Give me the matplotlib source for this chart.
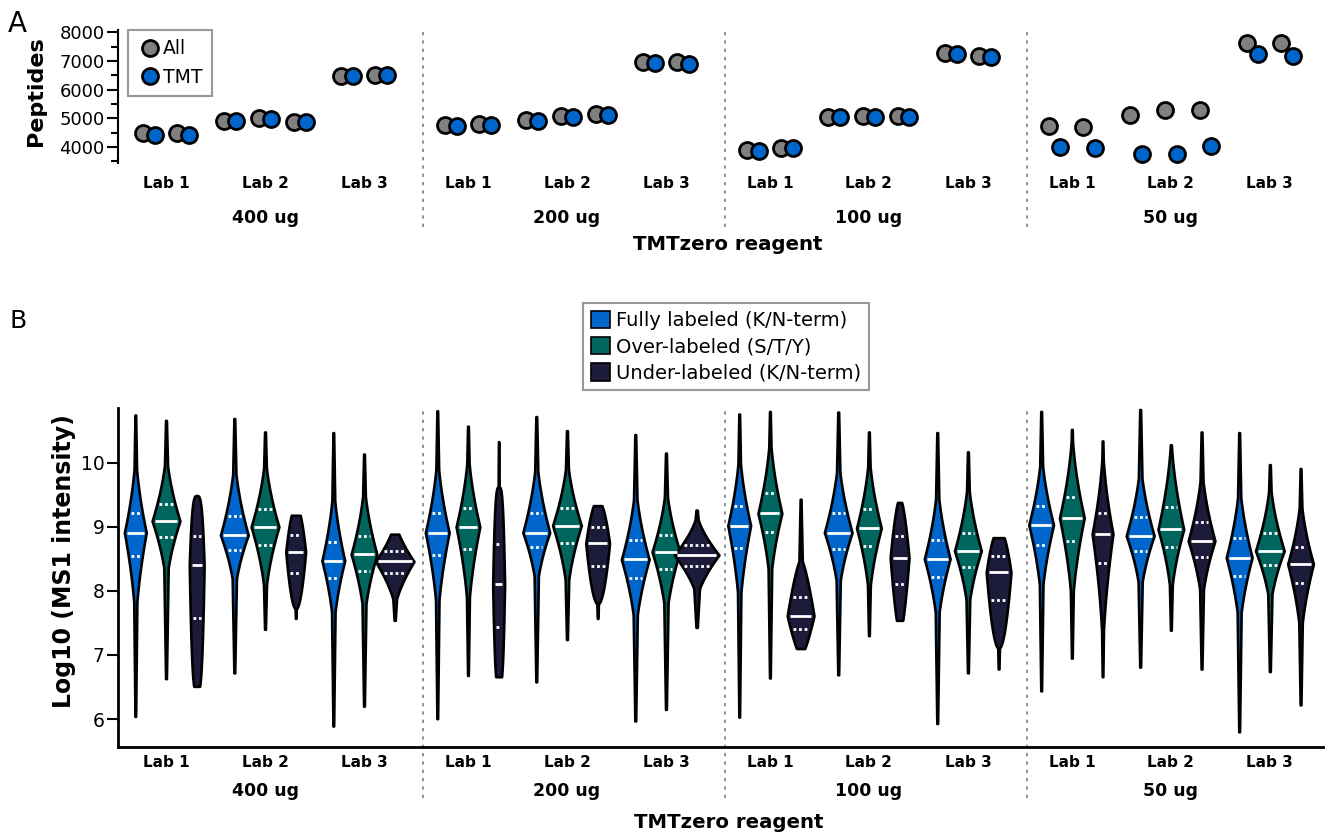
import numpy as np
import matplotlib
matplotlib.use("Agg")
import matplotlib.pyplot as plt
from matplotlib.lines import Line2D
from matplotlib.patches import Patch
from matplotlib.transforms import blended_transform_factory
from matplotlib.ticker import MultipleLocator

plt.rcParams['font.family'] = ['DejaVu Sans']

groups = ['400 ug', '200 ug', '100 ug', '50 ug']
labs = ['Lab 1', 'Lab 2', 'Lab 3']

# panel A: peptide counts per replicate, [group][lab][replicate]
peptides_all = [
    [[4480, 4480], [4917, 5001, 4872], [6466, 6511]],
    [[4768, 4813], [4942, 5092, 5141], [6954, 6954]],
    [[3896, 3976], [5060, 5070, 5081], [7268, 7174]],
    [[4743, 4708], [5116, 5291, 5291], [7616, 7616]],
]
peptides_tmt = [
    [[4420, 4420], [4897, 4977, 4872], [6466, 6494]],
    [[4722, 4768], [4897, 5057, 5116], [6929, 6905]],
    [[3872, 3976], [5050, 5060, 5057], [7233, 7149]],
    [[4011, 3976], [3756, 3756, 4046], [7243, 7184]],
]

# panel B: log10 MS1 intensity summaries, one row per group/lab
# columns: min, q1, median, q3, max
fully = [
    [6.04, 8.55, 8.91, 9.22, 10.745],
    [6.72, 8.64, 8.87, 9.17, 10.69],
    [5.89, 8.20, 8.47, 8.77, 10.47],
    [6.005, 8.56, 8.91, 9.22, 10.81],
    [6.58, 8.68, 8.91, 9.21, 10.72],
    [5.97, 8.20, 8.49, 8.79, 10.44],
    [6.03, 8.67, 9.02, 9.32, 10.76],
    [6.69, 8.66, 8.91, 9.21, 10.79],
    [5.93, 8.22, 8.50, 8.80, 10.47],
    [6.44, 8.72, 9.03, 9.32, 10.80],
    [6.81, 8.62, 8.86, 9.15, 10.83],
    [5.80, 8.23, 8.52, 8.82, 10.47],
]
over = [
    [6.63, 8.84, 9.09, 9.36, 10.66],
    [7.40, 8.72, 9.00, 9.28, 10.48],
    [6.20, 8.31, 8.57, 8.85, 10.135],
    [6.68, 8.65, 9.00, 9.30, 10.57],
    [7.24, 8.75, 9.02, 9.29, 10.50],
    [6.15, 8.34, 8.61, 8.875, 10.15],
    [6.64, 8.92, 9.21, 9.52, 10.80],
    [7.30, 8.70, 8.98, 9.27, 10.48],
    [6.72, 8.375, 8.625, 8.91, 10.17],
    [6.95, 8.78, 9.14, 9.47, 10.52],
    [7.385, 8.69, 8.96, 9.31, 10.28],
    [6.74, 8.40, 8.625, 8.90, 9.97],
]
under = [
    [6.51, 7.58, 8.40, 8.85, 9.49],
    [7.57, 8.28, 8.61, 8.875, 9.18],
    [7.54, 8.28, 8.46, 8.62, 8.885],
    [6.66, 7.44, 8.10, 8.73, 10.33],
    [7.57, 8.39, 8.74, 8.99, 9.33],
    [7.43, 8.39, 8.56, 8.72, 9.26],
    [7.10, 7.40, 7.61, 7.91, 9.43],
    [7.54, 8.11, 8.52, 8.85, 9.38],
    [6.78, 7.85, 8.29, 8.54, 8.83],
    [6.66, 8.44, 8.89, 9.22, 10.34],
    [6.78, 8.53, 8.78, 9.07, 10.48],
    [6.22, 8.12, 8.42, 8.69, 9.91],
]
# relative violin widths (peptide counts) and body shape per violin
# (larger = more pointed kite, smaller = flatter block)
fully_width = [0.22, 0.28, 0.23, 0.24, 0.27, 0.28, 0.23, 0.28, 0.26, 0.25, 0.28, 0.26]
over_width = [0.28, 0.28, 0.26, 0.24, 0.29, 0.28, 0.24, 0.25, 0.27, 0.25, 0.26, 0.29]
under_width = [0.15, 0.20, 0.39, 0.12, 0.24, 0.45, 0.27, 0.19, 0.25, 0.21, 0.27, 0.26]
under_shape = [0.3, 0.5, 1.5, 0.3, 0.5, 1.5, 0.7, 0.6, 0.5, 1.7, 1.7, 1.7]

series = [
    ('Fully labeled (K/N-term)', fully, fully_width, [1.7] * 12, '#0066cc'),
    ('Over-labeled (S/T/Y)', over, over_width, [1.7] * 12, '#00665e'),
    ('Under-labeled (K/N-term)', under, under_width, under_shape, '#1c1c3a'),
]

GRAY = '#808080'
BLUE = '#0066cc'
W, H = 1331, 833
G = 3.05          # spacing between reagent groups, in lab units
PX = 99.0         # pixels per lab unit


def fx(px):
    return px / W


def fy(px):
    return 1 - px / H


def violin_stats(row, k):
    # kite shaped density whose quartiles match the row, plus thin tails to min/max
    lo, q1, med, q3, hi = row
    y = np.linspace(lo, hi, 400)
    c = 1 - 0.5 ** (1 / (k + 1))
    d = np.where(y >= med, (y - med) * c / (q3 - med), (med - y) * c / (med - q1))
    body = np.clip(1 - d, 0, None) ** k
    frac = np.where(y >= med, (y - med) / (hi - med), (med - y) / (med - lo))
    tail = 0.18 * (1 - frac) + 0.03
    vals = np.maximum(body, tail)
    return dict(coords=y, vals=vals, mean=med, median=med, min=lo, max=hi)


lab_x = np.array([g * G + l for g in range(len(groups)) for l in range(len(labs))])
xlim = ((118 - 166) / PX, (1323 - 166) / PX)
dividers = [g * G - 0.455 for g in range(1, len(groups))]

fig = plt.figure(figsize=(W / 100, H / 100), dpi=100)
axA = fig.add_axes([fx(118), fy(163), fx(1323) - fx(118), fy(30) - fy(163)])
axB = fig.add_axes([fx(118), fy(747), fx(1323) - fx(118), fy(408) - fy(747)])

# ---- panel A ----
rep_step = 0.35
pair_off = 0.06
ms, mew = 11.5, 2.0
for g in range(len(groups)):
    for l in range(len(labs)):
        x0 = g * G + l
        a = np.array(peptides_all[g][l])
        t = np.array(peptides_tmt[g][l])
        offs = (np.arange(len(a)) - (len(a) - 1) / 2) * rep_step
        axA.plot(x0 + offs - pair_off, a, 'o', color=GRAY, mec='black', ms=ms, mew=mew, zorder=3)
        axA.plot(x0 + offs + pair_off, t, 'o', color=BLUE, mec='black', ms=ms, mew=mew, zorder=4)

axA.set_xlim(*xlim)
axA.set_ylim(3442, 8080)
axA.yaxis.set_major_locator(MultipleLocator(1000))
axA.yaxis.set_minor_locator(MultipleLocator(500))
for s in ['top', 'right', 'bottom']:
    axA.spines[s].set_visible(False)
axA.spines['left'].set_linewidth(1.5)
axA.tick_params(axis='y', which='major', length=8, width=1.5, labelsize=13, pad=1.5)
axA.tick_params(axis='y', which='minor', length=5, width=1.5)
axA.set_xticks(lab_x)
axA.set_xticklabels(labs * len(groups), fontweight='bold', fontsize=11)
axA.tick_params(axis='x', length=0, pad=9.5)
for xd in dividers:
    axA.axvline(xd, ymin=-0.48, ymax=1.02, clip_on=False, color='#7f7f7f', lw=1.2, ls=(0, (2, 3)))

trA = blended_transform_factory(axA.transData, fig.transFigure)
for g, name in enumerate(groups):
    axA.text(g * G + 1, fy(218), name, transform=trA, ha='center', va='center',
             fontsize=12.5, fontweight='bold')
fig.text(fx(728), fy(244), 'TMTzero reagent', ha='center', va='center', fontsize=14.2, fontweight='bold')
fig.text(fx(36), fy(91), 'Peptides', rotation=90, ha='center', va='center', fontsize=16, fontweight='bold')

legA = axA.legend(handles=[
    Line2D([], [], marker='o', ls='none', color=GRAY, mec='black', ms=ms, mew=mew, label='All'),
    Line2D([], [], marker='o', ls='none', color=BLUE, mec='black', ms=ms, mew=mew, label='TMT')],
    loc='upper left', bbox_to_anchor=((128 - 118) / 1205, 1.0), fontsize=13.5, frameon=True,
    fancybox=False, borderpad=0.5, labelspacing=0.5, handletextpad=0.05, handlelength=1.3,
    borderaxespad=0)
legA.get_frame().set_edgecolor(GRAY)
legA.get_frame().set_linewidth(1.5)

# ---- panel B ----
offsets = [-0.31, 0.0, 0.31]
for k, (name, rows, widths, shapes, color) in enumerate(series):
    pos = lab_x + offsets[k]
    stats = [violin_stats(r, p) for r, p in zip(rows, shapes)]
    parts = axB.violin(stats, positions=pos, widths=widths, showmeans=False,
                       showextrema=False, showmedians=False)
    for body in parts['bodies']:
        body.set_facecolor(color)
        body.set_edgecolor('black')
        body.set_linewidth(1.9)
        body.set_alpha(1)
        body.set_zorder(2)
    # median and quartile lines, as wide as the violin at that height
    for st, r, w, x in zip(stats, rows, widths, pos):
        vmax = st['vals'].max()
        for yq, ls in [(r[1], (0, (1, 1))), (r[2], '-'), (r[3], (0, (1, 1)))]:
            hw = np.interp(yq, st['coords'], st['vals']) / vmax * w / 2 - 0.025
            if hw > 0.01:
                axB.plot([x - hw, x + hw], [yq, yq], color='white', lw=2, ls=ls,
                         solid_capstyle='butt', zorder=3)

axB.set_xlim(*xlim)
axB.set_ylim(5.563, 10.854)
axB.set_yticks([6, 7, 8, 9, 10])
for s in ['top', 'right']:
    axB.spines[s].set_visible(False)
axB.spines['left'].set_linewidth(2)
axB.spines['bottom'].set_linewidth(2)
axB.tick_params(axis='y', length=8, width=1.5, labelsize=13.5, pad=1.5)
axB.set_xticks(lab_x)
axB.set_xticklabels(labs * len(groups), fontweight='bold', fontsize=11)
axB.tick_params(axis='x', length=0, pad=6)
for xd in dividers:
    axB.axvline(xd, ymin=-0.15, ymax=1.0, clip_on=False, color='#7f7f7f', lw=1.2, ls=(0, (2, 3)))

trB = blended_transform_factory(axB.transData, fig.transFigure)
for g, name in enumerate(groups):
    axB.text(g * G + 1, fy(791), name, transform=trB, ha='center', va='center',
             fontsize=12.5, fontweight='bold')
fig.text(fx(729), fy(823), 'TMTzero reagent', ha='center', va='center', fontsize=14.2, fontweight='bold')
fig.text(fx(64), fy(561), 'Log10 (MS1 intensity)', rotation=90, ha='center', va='center',
         fontsize=17, fontweight='bold')

legB = fig.legend(handles=[Patch(facecolor=c, edgecolor='black', lw=1.2, label=n)
                           for n, _, _, _, c in series],
                  loc='upper center', bbox_to_anchor=(fx(726), fy(303)), fontsize=14,
                  fancybox=False, borderpad=0.4, labelspacing=0.35, handletextpad=0.3,
                  handlelength=1.0, handleheight=1.0, borderaxespad=0)
legB.get_frame().set_edgecolor(GRAY)
legB.get_frame().set_linewidth(1.5)

fig.text(fx(8), fy(32), 'A', fontsize=20, va='baseline')
fig.text(fx(9), fy(328), 'B', fontsize=18, va='baseline')

fig.savefig('out.png', dpi=100)
